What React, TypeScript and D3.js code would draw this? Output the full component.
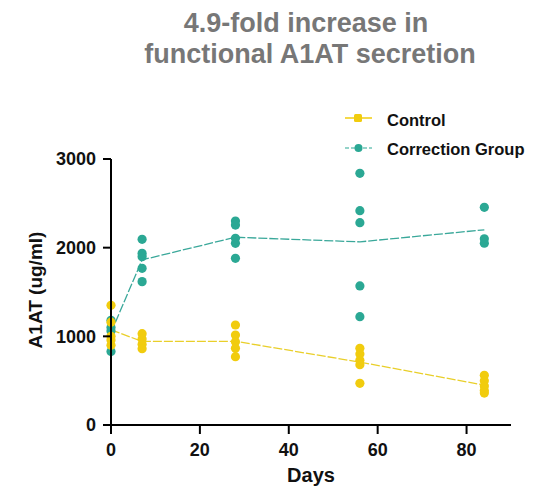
import React from "react";
import * as d3 from "d3";

const days = [0, 7, 28, 56, 84];
const controlValues = [
  [1350, 1160, 1000, 960, 900],
  [1030, 970, 910, 860],
  [1128, 1015, 940, 865, 771],
  [865, 800, 730, 680, 470],
  [560, 500, 440, 390, 360],
];
const correctionValues = [
  [1180, 1100, 1060, 830],
  [2094, 1936, 1898, 1767, 1617],
  [2300, 2255, 2105, 2049, 1880],
  [2838, 2417, 2282, 1568, 1222],
  [2455, 2100, 2050],
];
const xTicks = [0, 20, 40, 60, 80];
const yTicks = [0, 1000, 2000, 3000];
const seriesNames = ["Control", "Correction Group"];

const YELLOW = "#f1cc0e";
const TEAL = "#2ba894";
const FONT = "Liberation Sans, Arial, sans-serif";

export default function App() {
  const x = d3.scaleLinear().domain([0, 90]).range([111, 511]);
  const y = d3.scaleLinear().domain([0, 3000]).range([425, 159]);

  const line = d3
    .line<[number, number]>()
    .x((d) => x(d[0]))
    .y((d) => y(d[1]));

  const meanPts = (vals: number[][]) =>
    days.map((d, i) => [d, d3.mean(vals[i]) as number] as [number, number]);

  const series = [
    { name: seriesNames[1], vals: correctionValues, color: TEAL, lineColor: "#3aa89a" },
    { name: seriesNames[0], vals: controlValues, color: YELLOW, lineColor: "#e9cf2a" },
  ];

  return (
    <svg
      width={544}
      height={491}
      style={{ position: "absolute", left: 0, top: 0, background: "#fff" }}
      fontFamily={FONT}
    >
      {/* Title */}
      <text x={306} y={32} textAnchor="middle" fontSize={27} fontWeight="bold" fill="#777">
        4.9-fold increase in
      </text>
      <text x={310} y={63} textAnchor="middle" fontSize={27} fontWeight="bold" fill="#777">
        functional A1AT secretion
      </text>

      {/* Lines */}
      {series.map((s) => (
        <path
          key={s.name + "-line"}
          d={line(meanPts(s.vals)) || ""}
          fill="none"
          stroke={s.lineColor}
          strokeWidth={1.3}
          strokeDasharray="9,2"
        />
      ))}

      {/* Dots */}
      {series.map((s) =>
        s.vals.map((vals, i) =>
          vals.map((v, j) => (
            <circle
              key={s.name + i + "-" + j}
              cx={x(days[i])}
              cy={y(v)}
              r={4.6}
              fill={s.color}
            />
          ))
        )
      )}

      {/* Axes */}
      <line x1={x(0)} x2={x(0)} y1={y(3000)} y2={y(0) + 1} stroke="#000" strokeWidth={2} />
      <line x1={x(0) - 1} x2={x(90)} y1={y(0)} y2={y(0)} stroke="#000" strokeWidth={2} />
      {yTicks.map((t) => (
        <g key={"yt" + t}>
          <line x1={x(0) - 8} x2={x(0)} y1={y(t)} y2={y(t)} stroke="#000" strokeWidth={2} />
          <text
            x={x(0) - 15}
            y={y(t)}
            dy="0.35em"
            textAnchor="end"
            fontSize={18}
            fontWeight="bold"
            fill="#111"
          >
            {t}
          </text>
        </g>
      ))}
      {xTicks.map((t) => (
        <g key={"xt" + t}>
          <line x1={x(t)} x2={x(t)} y1={y(0)} y2={y(0) + 9} stroke="#000" strokeWidth={2} />
          <text
            x={x(t)}
            y={456}
            textAnchor="middle"
            fontSize={18}
            fontWeight="bold"
            fill="#111"
          >
            {t}
          </text>
        </g>
      ))}

      {/* Axis titles */}
      <text x={311} y={482} textAnchor="middle" fontSize={20} fontWeight="bold" fill="#111">
        Days
      </text>
      <text
        transform="translate(42,290) rotate(-90)"
        textAnchor="middle"
        fontSize={19}
        fontWeight="bold"
        fill="#111"
      >
        A1AT (ug/ml)
      </text>

      {/* Legend */}
      <line x1={345} x2={372} y1={118} y2={118} stroke={YELLOW} strokeWidth={1.5} />
      <rect x={354} y={114} width={8} height={8} rx={1.5} fill={YELLOW} />
      <text x={387} y={120} dy="0.35em" fontSize={16.5} fontWeight="bold" fill="#111">
        {seriesNames[0]}
      </text>
      <line x1={345} x2={372} y1={148} y2={148} stroke={TEAL} strokeWidth={1.2} strokeDasharray="4,2" />
      <circle cx={358.5} cy={148} r={4} fill={TEAL} />
      <text x={387} y={149} dy="0.35em" fontSize={16.5} fontWeight="bold" fill="#111">
        {seriesNames[1]}
      </text>
    </svg>
  );
}
